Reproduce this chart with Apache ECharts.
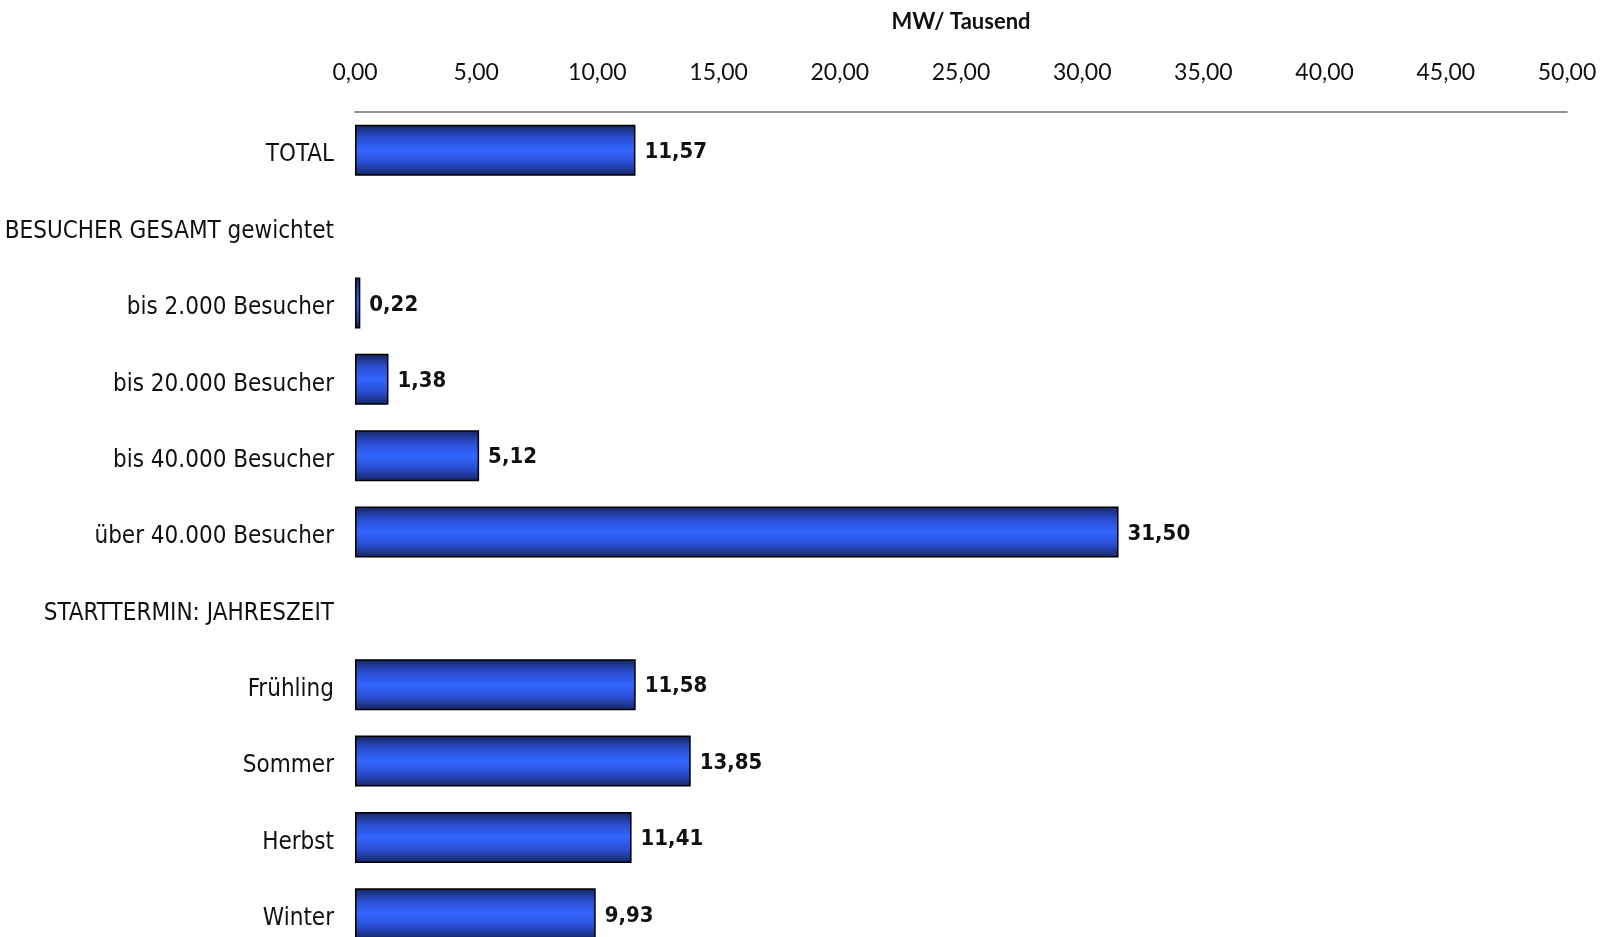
<!DOCTYPE html>
<html><head><meta charset="utf-8">
<script src="https://cdn.jsdelivr.net/npm/echarts@6/dist/echarts.min.js"></script>
<style>html,body{margin:0;padding:0;background:#fff}#c{width:1609px;height:937px}</style>
</head><body><div id="c"></div>
<script>
const categories = ['TOTAL','BESUCHER GESAMT gewichtet','bis 2.000 Besucher','bis 20.000 Besucher','bis 40.000 Besucher','über 40.000 Besucher','STARTTERMIN: JAHRESZEIT','Frühling','Sommer','Herbst','Winter'];
const values = [11.57, null, 0.22, 1.38, 5.12, 31.50, null, 11.58, 13.85, 11.41, 9.93];
const axisTitle = 'MW/ Tausend';
const fmt = v => v.toFixed(2).replace('.', ',');

const chart = echarts.init(document.getElementById('c'));
chart.setOption({
  animation: false,
  grid: { left: 355, right: 42, top: 112, height: 840, containLabel: false, outerBoundsMode: 'none' },
  xAxis: {
    type: 'value', position: 'top', min: 0, max: 50, interval: 5,
    name: axisTitle, nameLocation: 'middle', nameGap: 79,
    nameTextStyle: { fontFamily: 'Lato', fontWeight: 'bold', fontSize: 22, color: '#111' },
    axisLine: { show: true, lineStyle: { color: '#6e6e6e', width: 1.5 } },
    axisTick: { show: false },
    splitLine: { show: false },
    axisLabel: { formatter: fmt, fontFamily: 'Lato', fontSize: 23, color: '#111', margin: 28 }
  },
  yAxis: {
    type: 'category', inverse: true, data: categories,
    axisLine: { show: false }, axisTick: { show: false },
    axisLabel: { fontFamily: 'DejaVu Sans Condensed, Liberation Sans Narrow, Noto Sans', fontSize: 24, color: '#111', margin: 21, verticalAlign: 'top', lineHeight: 10 }
  },
  series: [{
    type: 'bar', data: values, barWidth: 51,
    itemStyle: {
      borderColor: '#000', borderWidth: 1.5,
      color: new echarts.graphic.LinearGradient(0, 0, 0, 1, [
        { offset: 0, color: '#16255e' },
        { offset: 0.25, color: '#2a4dd0' },
        { offset: 0.5, color: '#3366ff' },
        { offset: 0.75, color: '#2a4dd0' },
        { offset: 1, color: '#16255e' }
      ])
    },
    label: {
      show: true, position: 'right', distance: 9, offset: [0, 2],
      formatter: p => p.value == null ? '' : fmt(p.value),
      fontFamily: 'DejaVu Sans Condensed', fontWeight: 'bold', fontSize: 22, color: '#111'
    }
  }]
});
</script></body></html>
